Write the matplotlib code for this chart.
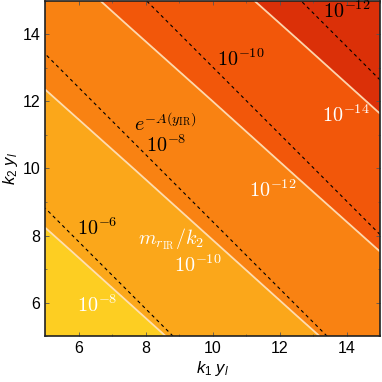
import numpy as np
import matplotlib.pyplot as plt

plt.rcParams['mathtext.fontset'] = 'custom'
plt.rcParams['mathtext.it'] = 'Liberation Sans:italic'
plt.rcParams['mathtext.rm'] = 'Liberation Sans'

# grid in (k1 y_l, k2 y_l)
k1_vals = [5, 7.5, 10, 12.5, 15]
k2_vals = [5, 7.5, 10, 12.5, 15]

# log10(m_rIR / k2), rows = k2, cols = k1
log_m = [
    [-7.43, -8.52, -9.61, -10.70, -11.78],
    [-8.64, -9.73, -10.82, -11.91, -12.99],
    [-9.86, -10.94, -12.03, -13.12, -14.21],
    [-11.07, -12.16, -13.24, -14.33, -15.42],
    [-12.28, -13.37, -14.46, -15.54, -16.63],
]

# log10(e^{-A(y_IR)})
log_eA = [
    [-4.34, -5.43, -6.51, -7.60, -8.69],
    [-5.43, -6.51, -7.60, -8.69, -9.77],
    [-6.51, -7.60, -8.69, -9.77, -10.86],
    [-7.60, -8.69, -9.77, -10.86, -11.94],
    [-8.69, -9.77, -10.86, -11.94, -13.03],
]

m_levels = [-20, -15, -13, -11, -9, 0]
eA_levels = [-12, -10, -8, -6]
fill_colors = ['#DB3008', '#F2570A', '#F98212', '#FBA71A', '#FDCE22']

X, Y = np.meshgrid(k1_vals, k2_vals)
M = np.array(log_m)
E = np.array(log_eA)

fig, ax = plt.subplots(figsize=(3.82, 3.82), dpi=100)
fig.subplots_adjust(left=0.118, right=0.995, bottom=0.12, top=0.998)

ax.contourf(X, Y, M, levels=m_levels, colors=fill_colors)
ax.contour(X, Y, M, levels=m_levels[1:-1], colors='#FFE2C0', linewidths=1.3,
           alpha=0.9, linestyles='solid')
ax.contour(X, Y, E, levels=eA_levels, colors='black', linewidths=0.8,
           linestyles=[(0, (3, 3))])

# labels
cm = dict(math_fontfamily='cm', fontsize=14.5, ha='center', va='center')
ax.text(14.0, 14.7, r'$10^{-12}$', color='black', **cm)
ax.text(10.84, 13.26, r'$10^{-10}$', color='black', **cm)
ax.text(8.6, 11.35, r'$e^{-A(y_{\rm IR})}$', color='black', **cm)
ax.text(8.63, 10.68, r'$10^{-8}$', color='black', **cm)
ax.text(6.57, 8.21, r'$10^{-6}$', color='black', **cm)
ax.text(13.97, 11.58, r'$10^{-14}$', color='white', **cm)
ax.text(11.79, 9.35, r'$10^{-12}$', color='white', **cm)
ax.text(8.75, 7.88, r'$m_{r_{\rm IR}}/k_2$', color='white', **cm)
ax.text(9.55, 7.12, r'$10^{-10}$', color='white', **cm)
ax.text(6.57, 5.93, r'$10^{-8}$', color='white', **cm)

ax.set_xlim(5, 15)
ax.set_ylim(5, 15)
ax.set_xticks([6, 8, 10, 12, 14])
ax.set_yticks([6, 8, 10, 12, 14])
ax.set_xticks(np.arange(5, 15.1, 1), minor=True)
ax.set_yticks(np.arange(5, 15.1, 1), minor=True)
ax.tick_params(direction='in', top=True, right=True, length=3, width=0.6,
               color='#555555', labelsize=11.5, labelfontfamily='Liberation Sans')
ax.tick_params(which='minor', direction='in', top=True, right=True, length=1.5,
               width=0.5, color='#555555')
for s in ax.spines.values():
    s.set_linewidth(1.2)
    s.set_color('#222222')

ax.set_xlabel(r'$k_1\ y_l$', fontsize=12, labelpad=2)
ax.set_ylabel(r'$k_2\ y_l$', fontsize=12, labelpad=2)

fig.savefig('out.png', dpi=100)
